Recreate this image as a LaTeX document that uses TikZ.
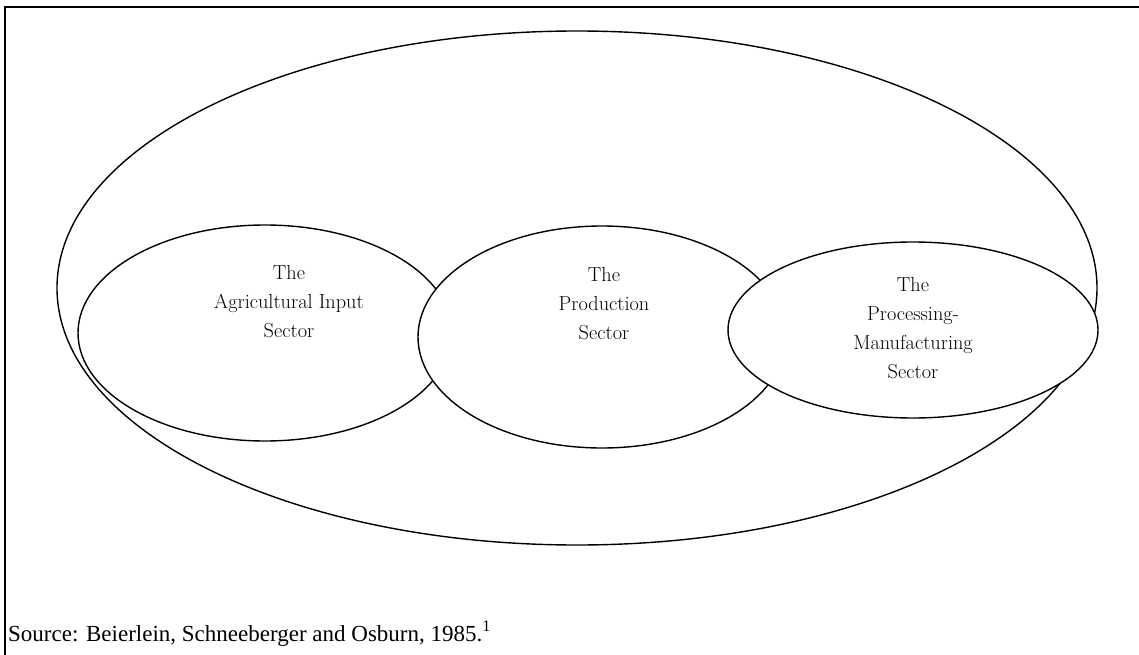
\documentclass[tikz,border=0pt]{standalone}
\usepackage{fontspec}
\newfontfamily\timesf{Liberation Serif}
\usetikzlibrary{shapes.geometric}
\begin{document}
\begin{tikzpicture}[x=1pt,y=-1pt,
  sector/.style={draw, ellipse, fill=white, line width=1.4pt, inner sep=0pt},
  lbl/.style={align=center, font=\fontsize{20.3}{29}\selectfont}]
\useasboundingbox (0,0) rectangle (1139,655);
% frame
\coordinate (ftr) at (1145,7);
\coordinate (ftl) at (5,7);
\coordinate (fbl) at (5,660);
\draw[line width=2pt] (ftr) -- (ftl) -- (fbl);
% outer system ellipse
\node[draw, ellipse, line width=1.4pt, minimum width=1040pt, minimum height=514pt, inner sep=0pt] (sys) at (577,288) {};
% sectors
\node[sector, minimum width=374pt, minimum height=216pt] (inp) at (265,333) {};
\node[sector, minimum width=368pt, minimum height=222pt] (prod) at (602,337) {};
\node[sector, minimum width=370pt, minimum height=176pt] (proc) at (913,330) {};
% labels
\node[lbl] (inpl) at (289,302) {The\\Agricultural Input\\Sector};
\node[lbl] (prodl) at (604,304) {The\\Production\\Sector};
\node[lbl] (procl) at (913,328) {The\\Processing-\\Manufacturing\\Sector};
% source
\node[anchor=base west, inner sep=0pt, font=\timesf\fontsize{23}{26}\selectfont] (src) at (8,641) {Source: Beierlein, Schneeberger and Osburn, 1985.\textsuperscript{1}};
\end{tikzpicture}
\end{document}
